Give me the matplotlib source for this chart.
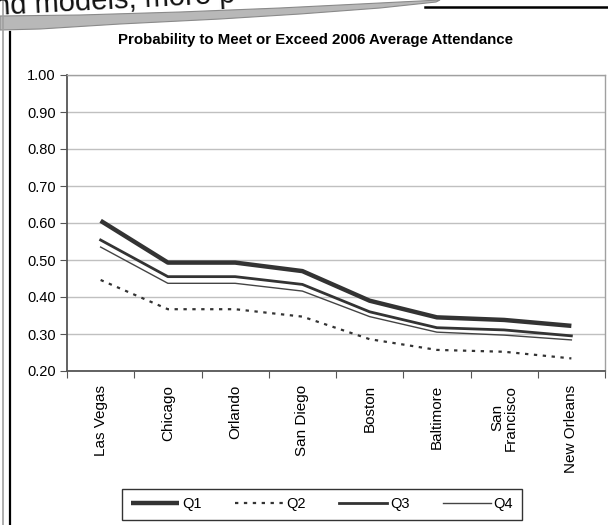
import numpy as np
import matplotlib.pyplot as plt
from matplotlib.patches import Polygon
from matplotlib.lines import Line2D

# Cities and probability per quarter
cities = ["Las Vegas", "Chicago", "Orlando", "San Diego", "Boston",
          "Baltimore", "San\nFrancisco", "New Orleans"]
q1 = [0.606, 0.493, 0.493, 0.470, 0.390, 0.345, 0.338, 0.322]
q2 = [0.446, 0.367, 0.367, 0.347, 0.286, 0.257, 0.252, 0.234]
q3 = [0.554, 0.455, 0.455, 0.434, 0.360, 0.317, 0.311, 0.295]
q4 = [0.535, 0.437, 0.437, 0.416, 0.347, 0.305, 0.297, 0.284]
yticks = [0.2, 0.3, 0.4, 0.5, 0.6, 0.7, 0.8, 0.9, 1.0]

plt.rcParams["font.family"] = ["Liberation Sans", "DejaVu Sans"]

W, H = 608, 525
fig = plt.figure(figsize=(W / 100, H / 100), dpi=100)

# page edge and torn paper strip along the top
fig.add_artist(Line2D([3 / W, 3 / W], [0, 1], color="#a0a0a0", lw=1.2))
fig.add_artist(Line2D([10 / W, 10 / W], [0, 1 - 32 / H], color="black", lw=1.6))
fig.add_artist(Line2D([425 / W, 1], [1 - 7 / H, 1 - 7 / H], color="black", lw=1.8))
fig.text(-6 / W, 1 - 15 / H, "nd models, more p", fontsize=21, rotation=3,
         ha="left", va="baseline", color="#111111")
strip = [(0, 16), (80, 15), (180, 12), (280, 8), (360, 4), (440, 0),
         (436, 2), (380, 8), (300, 14), (220, 19), (120, 24), (40, 29), (0, 30)]
fig.add_artist(Polygon([(x / W, 1 - y / H) for x, y in strip], closed=True,
                       transform=fig.transFigure, facecolor="#b8b8b8",
                       edgecolor="#8a8a8a", lw=0.8))

ax = fig.add_axes([67 / W, (H - 371) / H, 538 / W, 296 / H])
x = np.arange(len(cities))

ax.plot(x, q1, color="#333333", lw=3.2, solid_capstyle="butt", label="Q1")
ax.plot(x, q2, color="#333333", lw=1.6, linestyle=(0, (1.5, 2.5)), label="Q2")
ax.plot(x, q3, color="#333333", lw=2.0, label="Q3")
ax.plot(x, q4, color="#444444", lw=1.0, label="Q4")

ax.set_xlim(-0.5, len(cities) - 0.5)
ax.set_ylim(0.2, 1.0)
ax.set_yticks(yticks)
ax.set_yticklabels([f"{v:.2f}" for v in yticks], fontsize=10.5)
ax.yaxis.grid(True, color="#c0c0c0", lw=1.0)
ax.set_axisbelow(True)

# tick marks between categories, labels centred under them
ax.set_xticks(np.arange(-0.5, len(cities), 1.0))
ax.set_xticklabels([])
ax.set_xticks(x, minor=True)
ax.set_xticklabels(cities, minor=True, rotation=90, fontsize=11,
                   va="top", ha="center", linespacing=1.0)
ax.tick_params(axis="x", which="major", length=5, color="#555555")
ax.tick_params(axis="x", which="minor", length=0, pad=10)
ax.tick_params(axis="y", length=5, color="#555555", pad=3)

for side in ["left", "bottom"]:
    ax.spines[side].set_color("#555555")
    ax.spines[side].set_linewidth(1.3)
for side in ["top", "right"]:
    ax.spines[side].set_color("#a0a0a0")
    ax.spines[side].set_linewidth(1.0)

fig.text(315 / W, 1 - 40 / H, "Probability to Meet or Exceed 2006 Average Attendance",
         fontsize=10.8, fontweight="bold", ha="center", va="center")

leg = fig.legend(loc="lower left", ncol=4, mode="expand",
                 bbox_to_anchor=(122 / W, 1 - 520 / H, 400 / W, 33 / H),
                 frameon=True, fancybox=False, handlelength=3.3,
                 handletextpad=0.2, fontsize=10.5, borderpad=0.6,
                 borderaxespad=0)
leg.get_frame().set_edgecolor("black")
leg.get_frame().set_linewidth(1.0)

fig.savefig("out.png", dpi=100)
